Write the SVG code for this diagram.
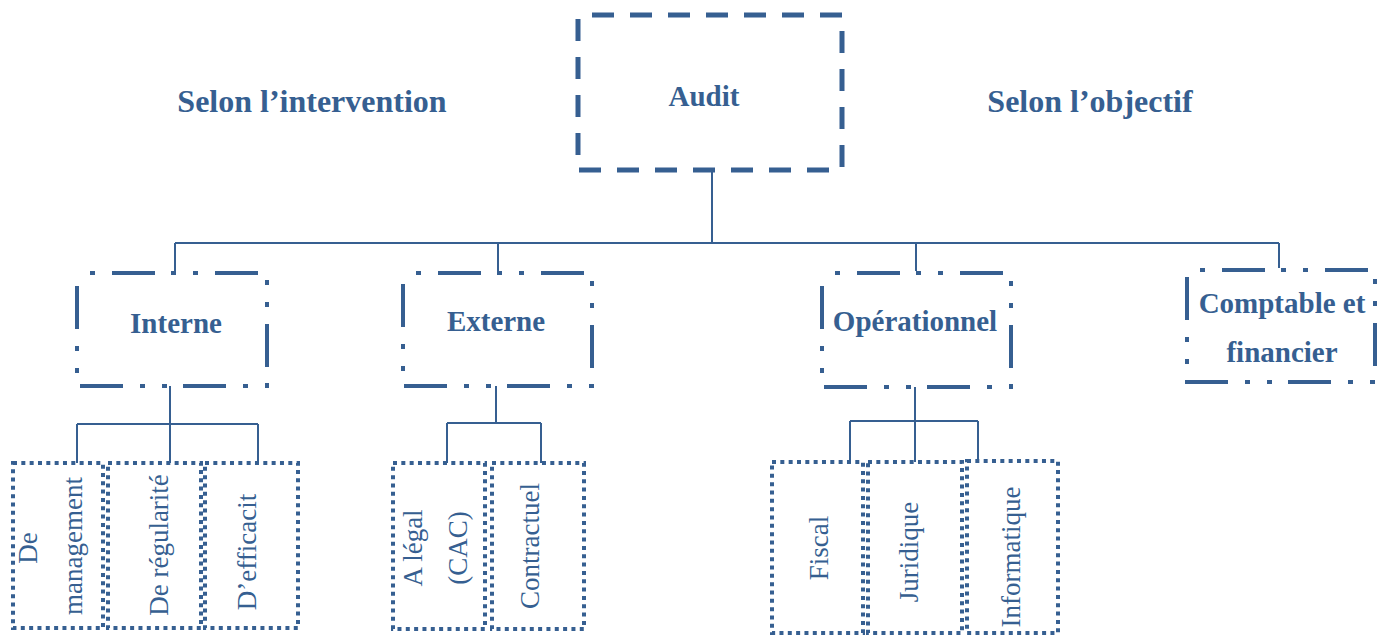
<svg xmlns="http://www.w3.org/2000/svg" width="1379" height="637" viewBox="0 0 1379 637">
  <style>
    .bg { fill: #ffffff; }
    .root { fill: none; stroke: #365F91; stroke-width: 5; stroke-dasharray: 22 16; stroke-dashoffset: 24; }
    .mid { fill: none; stroke: #365F91; stroke-width: 4; stroke-dasharray: 43 16 5 17 5 17; stroke-dashoffset: 68; }
    .leaf { fill: none; stroke: #365F91; stroke-width: 4; stroke-dasharray: 4 4.33; }
    .wire { fill: none; stroke: #365F91; stroke-width: 2; }
    .title { font-family: "Liberation Serif", "Times New Roman", serif; font-weight: bold; font-size: 29px; fill: #365F91; text-anchor: middle; }
    .head { font-family: "Liberation Serif", "Times New Roman", serif; font-weight: bold; font-size: 32px; fill: #365F91; text-anchor: middle; }
    .vert { font-family: "Liberation Serif", "Times New Roman", serif; font-size: 27px; fill: #365F91; text-anchor: middle; }
  </style>
  <rect class="bg" x="0" y="0" width="1379" height="637"/>

  <!-- section headings -->
  <g id="headings">
    <text class="head" x="312" y="112">Selon l’intervention</text>
    <text class="head" x="1090" y="112">Selon l’objectif</text>
  </g>

  <!-- connectors -->
  <g id="connectors">
    <path class="wire" d="M712,170 V243 M175,243 H1279 M175,243 V273 M498,243 V273 M916,243 V271 M1279,243 V268"/>
    <path class="wire" d="M170,386 V424 M77,424 H258 M77,424 V463 M170,424 V463 M258,424 V463"/>
    <path class="wire" d="M496,386 V423 M447,423 H541 M447,423 V463 M541,423 V463"/>
    <path class="wire" d="M915,387 V421 M850,421 H978 M850,421 V462 M915,421 V462 M978,421 V461"/>
  </g>

  <!-- root -->
  <g id="audit">
    <rect class="root" x="578" y="15" width="264" height="155"/>
    <text class="title" x="704" y="106">Audit</text>
  </g>

  <!-- second level -->
  <g id="interne">
    <rect class="mid" x="77" y="273" width="190" height="113"/>
    <text class="title" x="176" y="333">Interne</text>
  </g>
  <g id="externe">
    <rect class="mid" x="403" y="273" width="189" height="113"/>
    <text class="title" x="496" y="331">Externe</text>
  </g>
  <g id="operationnel">
    <rect class="mid" x="822" y="273" width="189" height="114"/>
    <text class="title" x="915" y="331">Opérationnel</text>
  </g>
  <g id="comptable">
    <rect class="mid" x="1187" y="270" width="188" height="112"/>
    <text class="title" x="1282" y="313">Comptable et</text>
    <text class="title" x="1282" y="362">financier</text>
  </g>

  <!-- third level: interne -->
  <g id="management">
    <rect class="leaf" x="13" y="463" width="90" height="165"/>
    <text class="vert" transform="translate(37,548) rotate(-90)">De</text>
    <text class="vert" transform="translate(82,546) rotate(-90)">management</text>
  </g>
  <g id="regularite">
    <rect class="leaf" x="108" y="463" width="93" height="165"/>
    <text class="vert" transform="translate(168,545) rotate(-90)">De régularité</text>
  </g>
  <g id="efficacite">
    <rect class="leaf" x="205" y="463" width="93" height="165"/>
    <text class="vert" transform="translate(256,552) rotate(-90)">D’efficacit</text>
  </g>

  <!-- third level: externe -->
  <g id="legal">
    <rect class="leaf" x="393" y="463" width="92" height="166"/>
    <text class="vert" transform="translate(422,548) rotate(-90)">A légal</text>
    <text class="vert" transform="translate(467,548) rotate(-90)">(CAC)</text>
  </g>
  <g id="contractuel">
    <rect class="leaf" x="492" y="463" width="92" height="166"/>
    <text class="vert" transform="translate(539,546) rotate(-90)">Contractuel</text>
  </g>

  <!-- third level: operationnel -->
  <g id="fiscal">
    <rect class="leaf" x="772" y="462" width="91" height="171"/>
    <text class="vert" transform="translate(828,548) rotate(-90)">Fiscal</text>
  </g>
  <g id="juridique">
    <rect class="leaf" x="868" y="462" width="94" height="171"/>
    <text class="vert" transform="translate(918,552) rotate(-90)">Juridique</text>
  </g>
  <g id="informatique">
    <rect class="leaf" x="967" y="461" width="91" height="172"/>
    <text class="vert" transform="translate(1020,557) rotate(-90)">Informatique</text>
  </g>
</svg>
